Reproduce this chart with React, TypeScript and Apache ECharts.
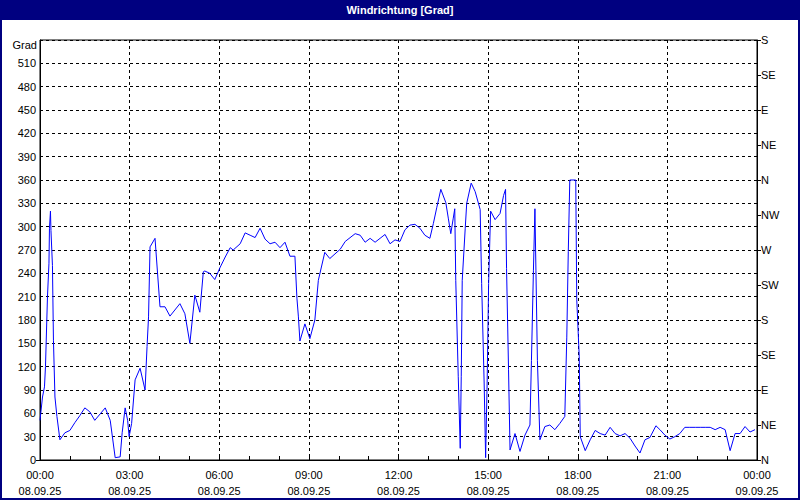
import React, { useEffect, useRef } from "react";
import * as echarts from "echarts";

// minutes since 08.09.25 00:00
const times: number[] = [
  0, 5, 9, 11, 15, 18, 19, 21, 22, 25, 27, 30, 34, 40, 50, 60, 70, 80, 90, 100, 110, 131, 141, 151,
  161, 165, 171, 176, 179, 184, 191, 201, 211, 215, 218, 221, 231, 241, 251, 261, 281, 291, 301, 311,
  321, 328, 331, 341, 351, 362, 372, 382, 388, 402, 412, 422, 432, 442, 452, 462, 472, 482, 492, 502,
  512, 516, 519, 522, 532, 542, 552, 559, 572, 582, 603, 613, 633, 643, 653, 663, 673, 683, 693, 703,
  713, 723, 733, 743, 753, 763, 773, 783, 790, 797, 805, 815, 820, 825, 830, 833, 835, 840, 844, 846,
  848, 854, 857, 866, 874, 884, 887, 892, 895, 898, 901, 905, 914, 924, 931, 935, 937, 941, 944, 954,
  964, 974, 984, 987, 991, 994, 996, 999, 1004, 1014, 1024, 1034, 1044, 1054, 1058, 1061, 1064, 1076,
  1078, 1083, 1085, 1095, 1105, 1115, 1125, 1135, 1145, 1155, 1165, 1175, 1185, 1195, 1205, 1215,
  1225, 1237, 1245, 1255, 1265, 1275, 1285, 1295, 1305, 1316, 1326, 1336, 1346, 1356, 1366, 1376,
  1386, 1396, 1406, 1416, 1426, 1436,
];

const directions: number[] = [
  51, 81, 94, 120, 210, 253, 298, 320, 295, 250, 154, 81, 56, 26, 35, 38, 48, 57, 67, 62, 51, 67, 51, 3,
  4, 35, 67, 51, 30, 47, 103, 118, 90, 146, 184, 274, 285, 197, 197, 185, 201, 188, 150, 212,
  190, 242, 243, 240, 232, 248, 261, 273, 270, 278, 292, 289, 286, 298, 284, 278, 280, 273, 280, 262,
  262, 208, 184, 153, 175, 156, 180, 231, 267, 259, 271, 281, 291, 289, 280, 285, 280, 285, 290, 278,
  283, 281, 296, 302, 303, 298, 289, 285, 304, 325, 348, 331, 311, 291, 311, 323, 231, 107, 15, 107,
  231, 298, 330, 356, 345, 322, 227, 99, 3, 99, 227, 320, 309, 317, 340, 348, 246, 116, 13, 34,
  11, 32, 45, 128, 244, 323, 244, 128, 26, 43, 45, 39, 47, 56, 158, 268, 360, 360,
  206, 133, 30, 12, 26, 38, 34, 32, 42, 34, 31, 34, 28, 18, 9, 26,
  29, 44, 39, 32, 27, 30, 34, 42, 42, 42, 42, 42, 42, 39, 42, 39,
  12, 34, 34, 43, 36, 39,
];

const compassLabels: string[] = ["N", "NE", "E", "SE", "S", "SW", "W", "NW", "N", "NE", "E", "SE", "S"];

const titleText = "Windrichtung [Grad]";
const leftUnit = "Grad";
const dayLabel = "08.09.25";
const nextDayLabel = "09.09.25";

const FONT = "Liberation Sans";

export default function App() {
  const ref = useRef<HTMLDivElement>(null);

  useEffect(() => {
    document.body.style.margin = "0";
    if (!ref.current) return;
    const chart = echarts.init(ref.current, null, { renderer: "svg" });
    const data = times.map((t, i) => [t, directions[i]]);
    const dashed = { color: "#000", type: [3, 3] as any, width: 1 };

    chart.setOption({
      animation: false,
      backgroundColor: "#ffffff",
      textStyle: { fontFamily: FONT },
      graphic: [
        {
          type: "rect",
          shape: { x: 0, y: 0, width: 800, height: 20 },
          style: { fill: "#000080" },
          silent: true,
        },
        {
          type: "rect",
          shape: { x: 1, y: 1, width: 798, height: 498 },
          style: { fill: "none", stroke: "#000080", lineWidth: 2 },
          silent: true,
        },
        {
          type: "text",
          x: 400,
          y: 10,
          style: {
            text: titleText,
            fill: "#ffffff",
            font: `bold 11px "${FONT}"`,
            textAlign: "center",
            textVerticalAlign: "middle",
          },
        },
        {
          type: "text",
          x: 37,
          y: 45,
          style: {
            text: leftUnit,
            fill: "#000",
            font: `11px "${FONT}"`,
            textAlign: "right",
            textVerticalAlign: "middle",
          },
        },
        {
          type: "line",
          shape: { x1: 36, y1: 460.5, x2: 40, y2: 460.5 },
          style: { stroke: "#000", lineWidth: 1 },
          silent: true,
        },
      ],
      grid: {
        left: 40,
        right: 43,
        top: 40,
        bottom: 40,
        show: true,
        borderColor: "#000",
        borderWidth: 1,
        backgroundColor: "transparent",
      },
      xAxis: {
        type: "value",
        min: 0,
        max: 1440,
        interval: 180,
        axisLine: { show: true, lineStyle: { color: "#000", width: 1 } },
        axisTick: { show: true, inside: true, length: 4, lineStyle: { color: "#000" } },
        minorTick: { show: true, splitNumber: 3, length: 4, lineStyle: { color: "#000" } },
        splitLine: { show: true, lineStyle: dashed },
        axisLabel: {
          color: "#000",
          fontSize: 11,
          fontFamily: FONT,
          margin: 7,
          lineHeight: 16,
          formatter: (v: number) => {
            const h = Math.round(v / 60) % 24;
            const hh = (h < 10 ? "0" : "") + h + ":00";
            return hh + "\n" + (v >= 1440 ? nextDayLabel : dayLabel);
          },
        },
      },
      yAxis: [
        {
          type: "value",
          min: 0,
          max: 540,
          interval: 30,
          position: "left",
          axisLine: { show: true, lineStyle: { color: "#000", width: 1 } },
          axisTick: { show: false },
          splitLine: { show: true, lineStyle: dashed },
          axisLabel: {
            color: "#000",
            fontSize: 11,
            fontFamily: FONT,
            margin: 4,
            formatter: (v: number) => (v === 540 ? "" : String(v)),
          },
        },
        {
          type: "value",
          min: 0,
          max: 540,
          interval: 45,
          position: "right",
          axisLine: { show: true, lineStyle: { color: "#000", width: 1 } },
          axisTick: { show: true, inside: false, length: 4, lineStyle: { color: "#000" } },
          splitLine: { show: false },
          axisLabel: {
            color: "#000",
            fontSize: 11,
            fontFamily: FONT,
            margin: 4,
            formatter: (v: number) => compassLabels[Math.round(v / 45)] ?? "",
          },
        },
      ],
      series: [
        {
          type: "line",
          data,
          yAxisIndex: 0,
          showSymbol: false,
          symbol: "none",
          lineStyle: { color: "#0000ff", width: 1 },
          silent: true,
        },
      ],
    });

    return () => chart.dispose();
  }, []);

  return (
    <div
      ref={ref}
      style={{ position: "absolute", left: 0, top: 0, width: 800, height: 500 }}
    />
  );
}
